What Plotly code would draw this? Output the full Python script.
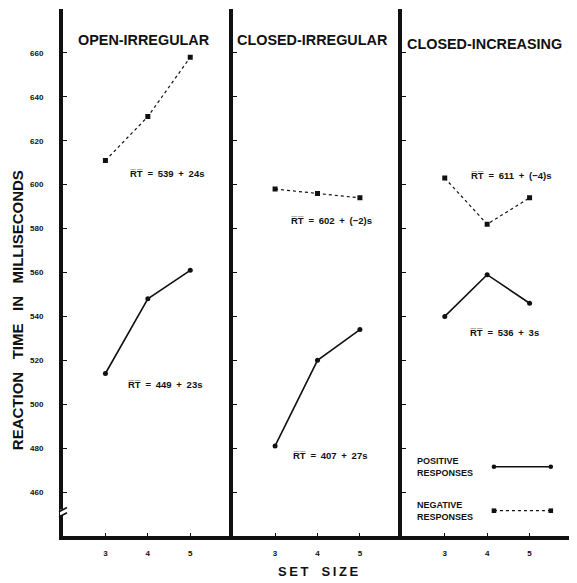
import plotly.graph_objects as go
from plotly.subplots import make_subplots

set_size = [3, 4, 5]
panel_titles = ["OPEN-IRREGULAR", "CLOSED-IRREGULAR", "CLOSED-INCREASING"]
positive_open_irregular = [514, 548, 561]
negative_open_irregular = [611, 631, 658]
positive_closed_irregular = [481, 520, 534]
negative_closed_irregular = [598, 596, 594]
positive_closed_increasing = [540, 559, 546]
negative_closed_increasing = [603, 582, 594]
eq_positive = ["449 + 23s", "407 + 27s", "536 + 3s"]
eq_negative = ["539 + 24s", "602 + (\u22122)s", "611 + (\u22124)s"]
y_ticks = [460, 480, 500, 520, 540, 560, 580, 600, 620, 640, 660]

positives = [positive_open_irregular, positive_closed_irregular, positive_closed_increasing]
negatives = [negative_open_irregular, negative_closed_irregular, negative_closed_increasing]

INK = "#111111"
FONT = "Liberation Sans"


def spaced(s, letter_gap, word_gap):
    return word_gap.join(letter_gap.join(list(w)) for w in s.split(" "))


def eq(rhs):
    return "<b>R\u0305T\u0305\u2002=\u2002" + rhs.replace(" + ", "\u2002+\u2002") + "</b>"


fig = make_subplots(rows=1, cols=3, shared_yaxes=True, horizontal_spacing=0)

for i in range(3):
    fig.add_trace(go.Scatter(
        x=set_size, y=positives[i], mode="lines+markers",
        line=dict(color=INK, width=1.6, dash="solid"),
        marker=dict(symbol="circle", size=5, color=INK),
        showlegend=False, hoverinfo="skip"), row=1, col=i + 1)
    fig.add_trace(go.Scatter(
        x=set_size, y=negatives[i], mode="lines+markers",
        line=dict(color=INK, width=1.2, dash="dot"),
        marker=dict(symbol="square", size=5, color=INK),
        showlegend=False, hoverinfo="skip"), row=1, col=i + 1)

title_pos = [(3.9, 666), (3.88, 666), (3.93, 664)]
neg_eq_pos = [(3.53, 605), (3.33, 583.5), (3.57, 604)]
pos_eq_pos = [(3.49, 509), (3.37, 476.5), (3.55, 532.5)]

ann = []
for i in range(3):
    xr = "x" if i == 0 else f"x{i+1}"
    yr = "y" if i == 0 else f"y{i+1}"
    ann.append(dict(text=f"<b>{panel_titles[i]}</b>", x=title_pos[i][0], y=title_pos[i][1],
                    xref=xr, yref=yr, showarrow=False, xanchor="center", yanchor="middle",
                    font=dict(family=FONT, size=14.4, color=INK)))
    ann.append(dict(text=eq(eq_negative[i]), x=neg_eq_pos[i][0], y=neg_eq_pos[i][1],
                    xref=xr, yref=yr, showarrow=False, xanchor="left", yanchor="middle",
                    font=dict(family=FONT, size=9.5, color=INK)))
    ann.append(dict(text=eq(eq_positive[i]), x=pos_eq_pos[i][0], y=pos_eq_pos[i][1],
                    xref=xr, yref=yr, showarrow=False, xanchor="left", yanchor="middle",
                    font=dict(family=FONT, size=9.5, color=INK)))

# axis titles
ann.append(dict(text="<b>" + spaced("REACTION TIME IN MILLISECONDS", "", "&nbsp;&nbsp;&nbsp;") + "</b>",
                x=-0.089, y=0.428, xref="paper", yref="paper", textangle=-90, showarrow=False,
                xanchor="center", yanchor="middle",
                font=dict(family=FONT, size=15, color=INK)))
ann.append(dict(text="<b>" + spaced("SET SIZE", "\u2009", "\u2003") + "</b>", x=0.502, y=-0.068,
                xref="paper", yref="paper", showarrow=False, xanchor="center", yanchor="middle",
                font=dict(family=FONT, size=13, color=INK)))
# legend text
ann.append(dict(text="<b>POSITIVE<br>RESPONSES</b>", x=0.075, y=0.131, xref="x3 domain", yref="paper",
                xanchor="left", yanchor="middle", align="left", showarrow=False,
                font=dict(family=FONT, size=9, color=INK)))
ann.append(dict(text="<b>NEGATIVE<br>RESPONSES</b>", x=0.075, y=0.048, xref="x3 domain", yref="paper",
                xanchor="left", yanchor="middle", align="left", showarrow=False,
                font=dict(family=FONT, size=9, color=INK)))

shapes = []
# legend samples
for yv, dash, sym in [(0.1315, "solid", "circle"), (0.048, "dot", "rect")]:
    shapes.append(dict(type="line", xref="x3 domain", yref="paper", x0=0.54, x1=0.875, y0=yv, y1=yv,
                       line=dict(color=INK, width=1.6 if dash == "solid" else 1.2, dash=dash)))
    for xv in (0.54, 0.875):
        shapes.append(dict(type=sym, xref="x3 domain", yref="paper", xsizemode="pixel", ysizemode="pixel",
                           xanchor=xv, yanchor=yv, x0=-2.3, x1=2.3, y0=-2.3, y1=2.3,
                           fillcolor=INK, line=dict(color=INK, width=0)))
# axis break mark
shapes.append(dict(type="rect", xref="paper", yref="paper", xsizemode="pixel", xanchor=0,
                   x0=-3, x1=3, y0=0.040, y1=0.050, fillcolor="white", line=dict(width=0)))
for y0 in (0.036, 0.046):
    shapes.append(dict(type="line", xref="paper", yref="paper", xsizemode="pixel", xanchor=0,
                       x0=-4, x1=4, y0=y0, y1=y0 + 0.008, line=dict(color=INK, width=1.6)))

# the page body has an 8px default margin, so the figure is sized/offset to compensate
fig.update_layout(
    width=569, height=575,
    margin=dict(l=55, r=2, t=1, b=47),
    paper_bgcolor="white", plot_bgcolor="white",
    annotations=ann, shapes=shapes,
    font=dict(family=FONT, color=INK),
)

for i in range(3):
    fig.update_xaxes(range=[2, 6], tickvals=set_size, ticktext=[f"<b>{v}</b>" for v in set_size],
                     ticks="inside", ticklen=3, tickwidth=1.2, tickcolor=INK,
                     showline=True, linewidth=4, linecolor=INK, showgrid=False, zeroline=False,
                     tickfont=dict(family=FONT, size=8, color=INK), ticklabelstandoff=6,
                     row=1, col=i + 1)
    fig.update_yaxes(range=[440, 680], tickvals=y_ticks,
                     ticks="inside", ticklen=4, tickwidth=1.2, tickcolor=INK,
                     showline=True, linewidth=4, linecolor=INK, showgrid=False, zeroline=False,
                     mirror=(i == 2),
                     row=1, col=i + 1)

fig.update_yaxes(ticktext=[f"<b>{v}</b>" for v in y_ticks], showticklabels=True,
                 tickfont=dict(family=FONT, size=8, color=INK), ticklabelstandoff=14, row=1, col=1)
fig.update_yaxes(showticklabels=False, row=1, col=2)
fig.update_yaxes(showticklabels=False, row=1, col=3)

fig.write_html("out.html")
